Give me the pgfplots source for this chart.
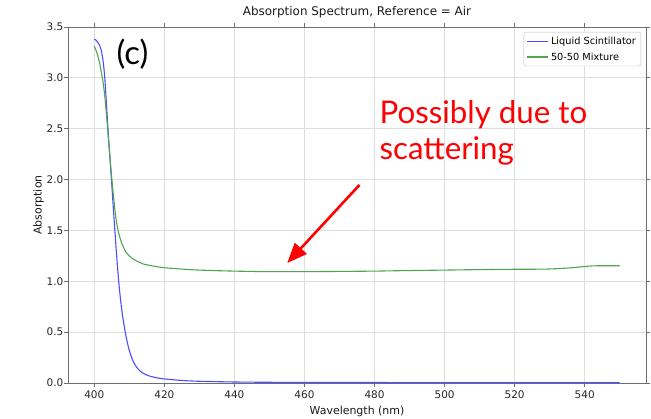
\documentclass[border=0pt]{standalone}
\usepackage{pgfplots}
\pgfplotsset{compat=1.18}
\usepackage{fontspec}
\setmainfont{DejaVu Sans}
\newfontfamily\annot{Lato}
\usetikzlibrary{arrows.meta}
\definecolor{lsblue}{RGB}{77,77,255}
\definecolor{mixgreen}{RGB}{77,166,77}
\definecolor{gridgray}{RGB}{222,222,222}
\definecolor{spine}{RGB}{110,110,110}
\begin{document}
\begin{tikzpicture}
\path[use as bounding box] (-68bp,-36bp) rectangle (583bp,383bp);
\begin{axis}[
  scale only axis, width=578bp, height=356bp,
  at={(0,0)}, anchor=south west,
  xmin=392.5, xmax=557.5, ymin=0, ymax=3.5,
  xtick={400,420,...,540}, ytick={0,0.5,...,3.5},
  yticklabel style={/pgf/number format/fixed, /pgf/number format/fixed zerofill, /pgf/number format/precision=1},
  /pgf/number format/assume math mode=true,
  grid=major, grid style={gridgray, line width=0.8bp},
  axis line style={spine, line width=0.8bp},
  tick align=outside, major tick length=3.5bp, tick style={spine, line width=0.8bp},
  every tick label/.append style={font=\fontsize{10.5}{12}\selectfont, text=black!85},
  xticklabel style={anchor=base, yshift=-12bp},
  yticklabel style={anchor=east, inner sep=0pt, xshift=-1bp},
  title={Absorption Spectrum, Reference = Air},
  title style={at={(axis description cs:0.5,1.0169)}, anchor=base, font=\fontsize{12}{14}\selectfont, text=black!90},
  xlabel={Wavelength (nm)},
  xlabel style={at={(axis description cs:0.5,-0.0871)}, anchor=base, font=\fontsize{11}{13}\selectfont, text=black!90},
  ylabel={Absorption},
  ylabel style={at={(axis description cs:-0.0458,0.5)}, anchor=base, rotate=0, font=\fontsize{11}{13}\selectfont, text=black!90},
  legend cell align=left,
  legend image code/.code={\draw[#1] plot coordinates {(0bp,0bp) (10.5bp,0bp) (21bp,0bp)};},
  legend style={at={(rel axis cs:1,1)}, anchor=north east, xshift=-5bp, yshift=-5bp,
    draw=gridgray!85!black, rounded corners=2bp, font=\fontsize{9.8}{11}\selectfont,
    row sep=3bp, inner xsep=3bp, inner ysep=2.5bp},
]
\addplot[lsblue, line width=1.1bp, smooth, tension=0.5] coordinates {
(400,3.38) (400.5,3.37) (401,3.35) (401.5,3.32) (402,3.27) (402.5,3.17)
(403,3.00) (403.5,2.73) (404,2.45) (404.5,2.20) (405,1.95) (405.5,1.69)
(406,1.44) (406.5,1.20) (407,0.99) (407.5,0.82) (408,0.68) (408.5,0.57)
(409,0.47) (409.5,0.39) (410,0.32) (411,0.22) (412,0.16) (413,0.12)
(414,0.095) (415,0.078) (416,0.066) (418,0.05) (420,0.04) (425,0.025)
(430,0.017) (440,0.01) (450,0.007) (470,0.005) (500,0.004) (550,0.003)
};
\addlegendentry{Liquid Scintillator}
\addplot[mixgreen, line width=1.1bp, smooth, tension=0.5] coordinates {
(400,3.31) (400.5,3.27) (401,3.22) (401.5,3.15) (402,3.06) (402.5,2.96)
(403,2.82) (403.5,2.63) (404,2.42) (404.5,2.21) (405,2.01) (405.5,1.83)
(406,1.67) (406.5,1.55) (407,1.47) (407.5,1.41) (408,1.36) (409,1.29)
(410,1.25) (411,1.22) (412,1.20) (413,1.185) (414,1.17) (416,1.155) (418,1.143)
(420,1.133) (425,1.12) (430,1.11) (440,1.10) (450,1.095) (460,1.095)
(470,1.097) (480,1.10) (487,1.104) (500,1.11) (510,1.115) (520,1.118)
(529,1.12) (535,1.13) (540,1.145) (543,1.152) (550,1.153)
};
\addlegendentry{50-50 Mixture}
\node[anchor=west, inner sep=0pt, font=\annot\fontsize{33}{36}\selectfont] at (axis cs:406.3,3.235) {(c)};
\node[anchor=base west, inner sep=0pt, text=red, font=\annot\fontsize{31.4}{36}\selectfont] at (axis cs:481.4,2.554) {Possibly due to};
\node[anchor=base west, inner sep=0pt, text=red, font=\annot\fontsize{31.4}{36}\selectfont] at (axis cs:481.4,2.193) {scattering};
\draw[red, line width=2.6bp, -{Triangle[length=20bp,width=16bp]}] (axis cs:475.7,1.947) -- (axis cs:455.1,1.18);
\end{axis}
\end{tikzpicture}
\end{document}
